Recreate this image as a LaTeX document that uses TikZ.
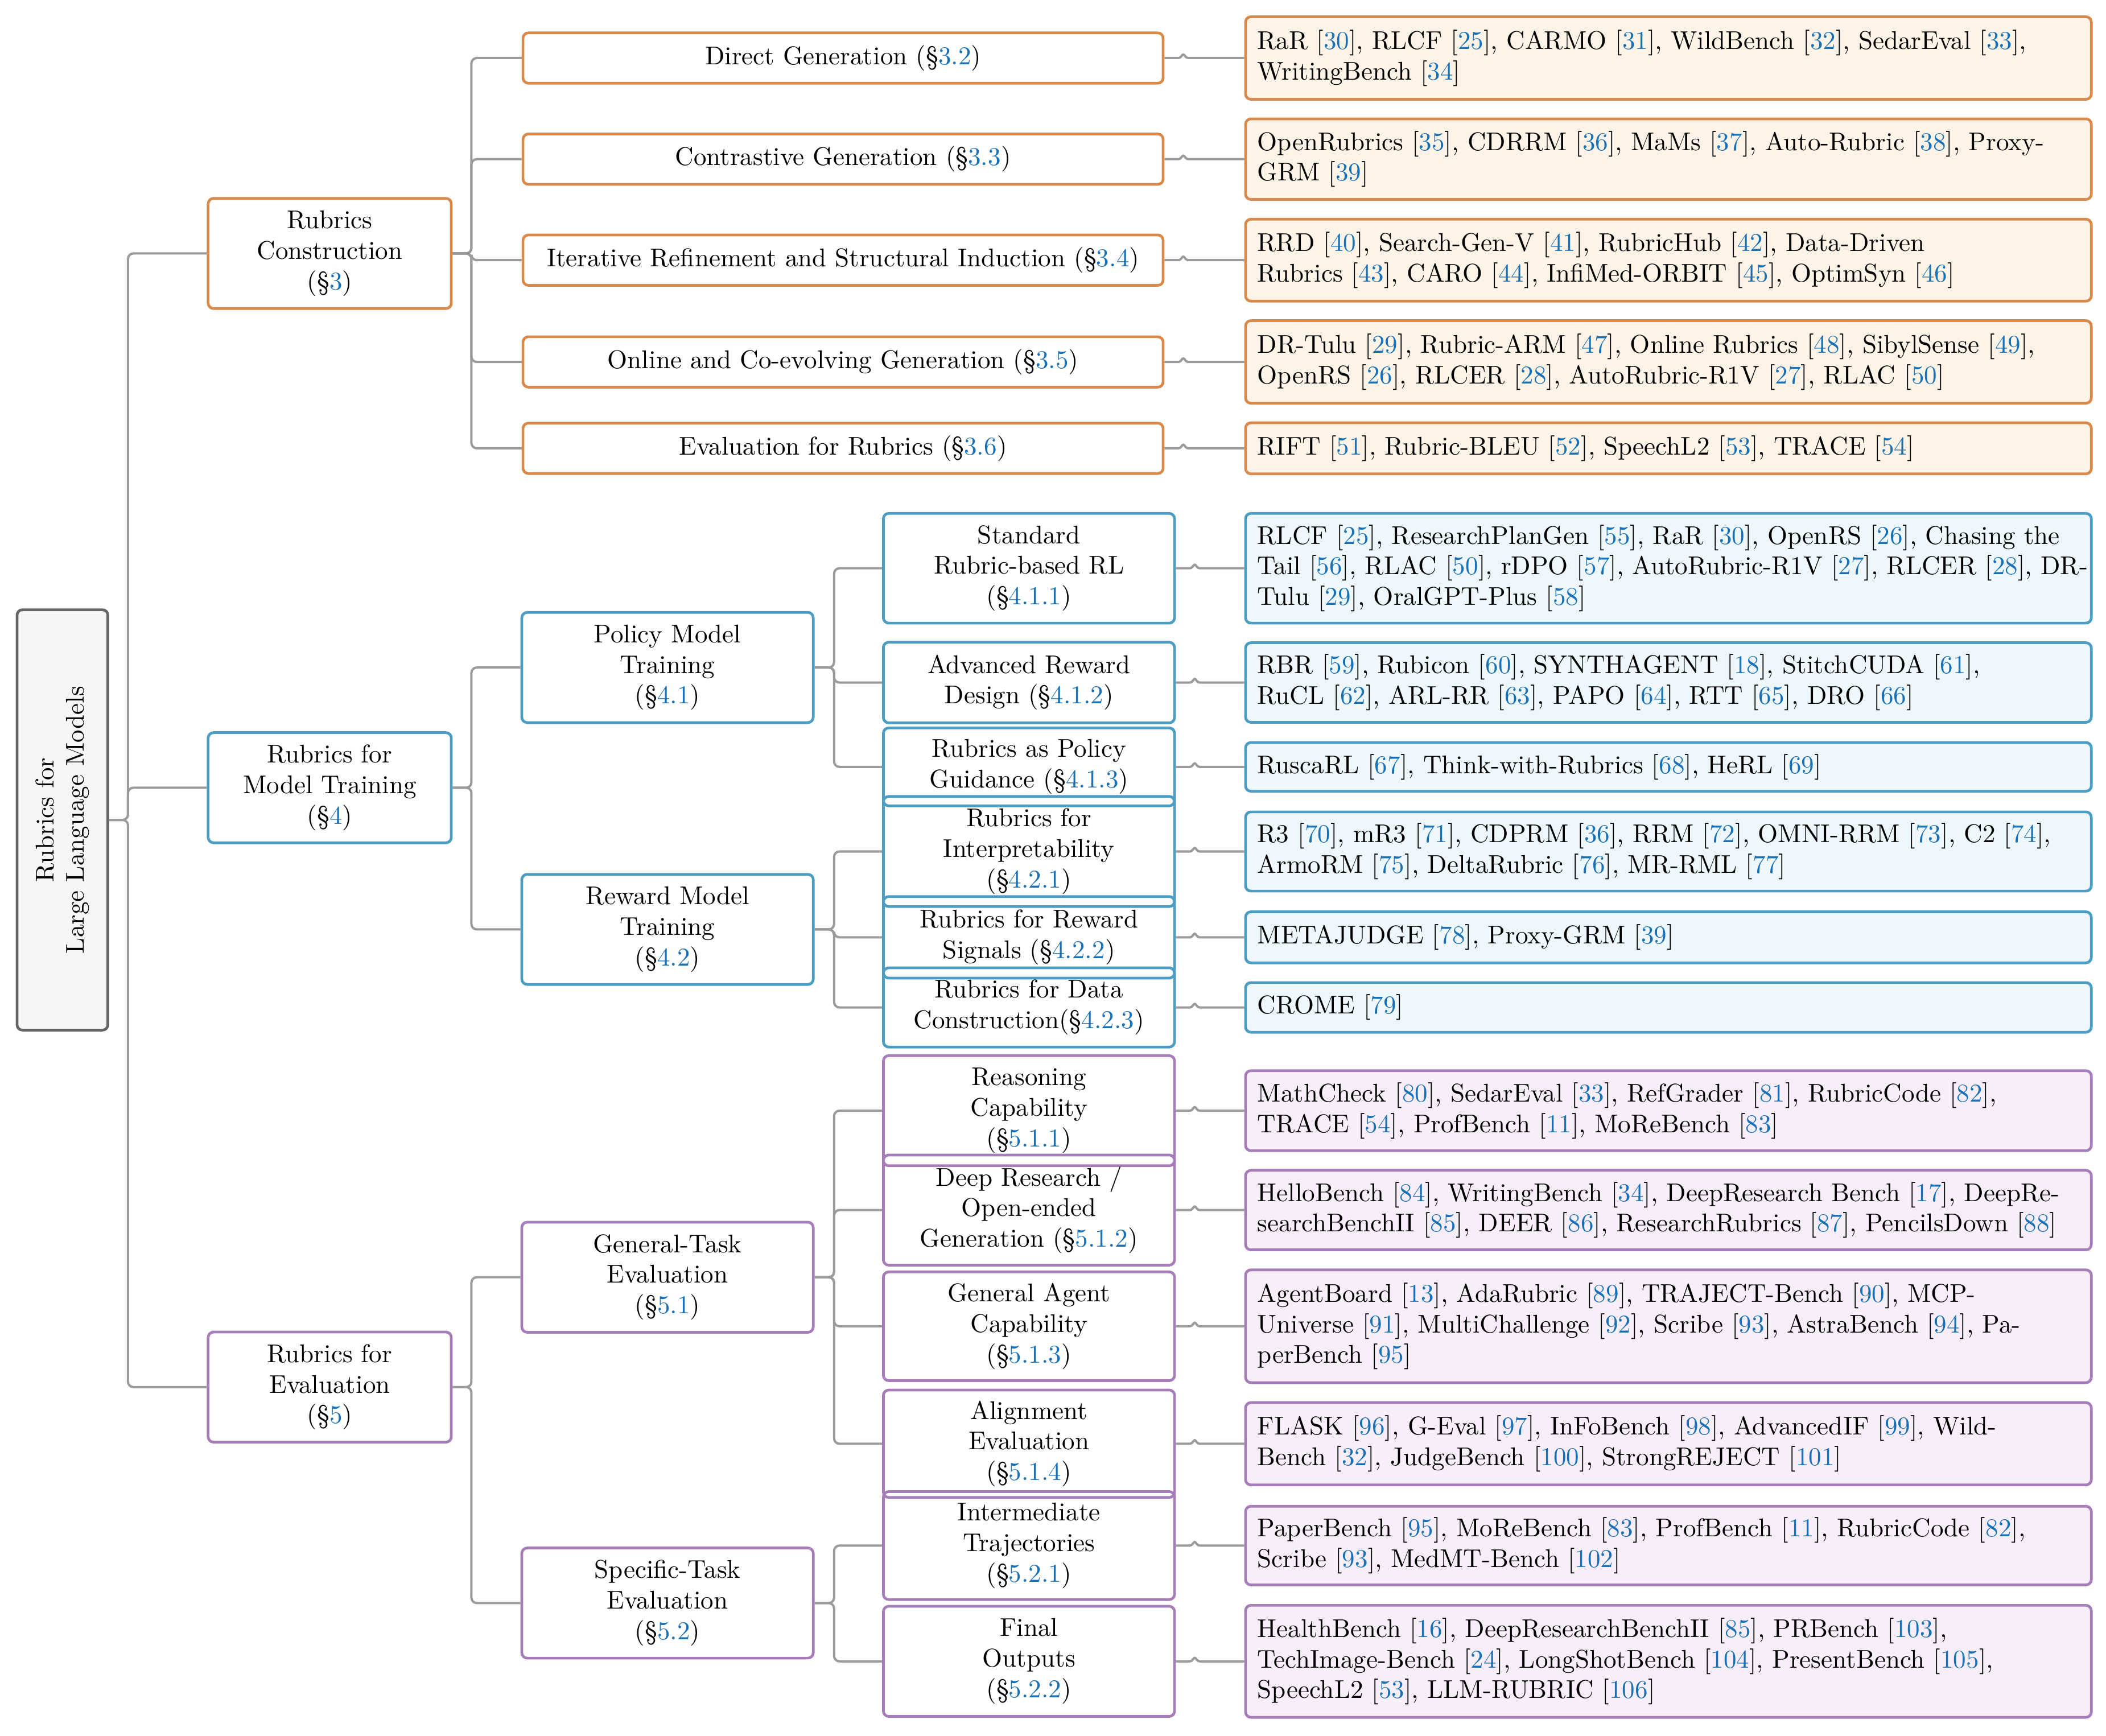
\documentclass[tikz,border=0pt]{standalone}
\usepackage{xcolor}
\definecolor{orB}{RGB}{217,138,74}
\definecolor{orF}{RGB}{253,243,231}
\definecolor{blB}{RGB}{75,157,196}
\definecolor{blF}{RGB}{238,248,252}
\definecolor{puB}{RGB}{166,124,185}
\definecolor{puF}{RGB}{247,238,249}
\definecolor{citeC}{RGB}{24,112,182}
\definecolor{connC}{RGB}{155,155,155}
\definecolor{rootB}{RGB}{102,102,102}
\definecolor{rootF}{RGB}{246,246,246}
\newcommand{\ct}[1]{[\textcolor{citeC}{#1}]}
\newcommand{\sect}[1]{(\S\textcolor{citeC}{#1})}
\begin{document}
\begin{tikzpicture}[x=0.5pt,y=-0.5pt,
  font=\fontsize{9.55pt}{11.4pt}\selectfont,
  box/.style={rounded corners=2pt, line width=1pt, inner sep=0pt, align=center},
  rootbox/.style={box, draw=rootB, fill=rootF, minimum width=156.5pt, minimum height=33.8pt, rotate=90},
  orN/.style={box, draw=orB},
  blN/.style={box, draw=blB},
  puN/.style={box, draw=puB},
  lone/.style={minimum width=90.5pt, minimum height=41pt},
  ltwowide/.style={minimum width=238.3pt, minimum height=18.75pt},
  ltwo/.style={minimum width=108.5pt, minimum height=41pt},
  lthree/.style={minimum width=108.4pt, minimum height=#1},
  leaf/.style={rounded corners=2pt, line width=1pt, text width=306pt, align=left,
    inner xsep=4.4pt, inner ysep=0pt, minimum width=314.85pt, minimum height=#1},
  orL/.style={leaf=#1, draw=orB, fill=orF},
  blL/.style={leaf=#1, draw=blB, fill=blF},
  puL/.style={leaf=#1, draw=puB, fill=puF},
  conn/.style={draw=connC, line width=0.85pt, rounded corners=2pt},
  bconn/.style={draw=connC, line width=0.85pt, rounded corners=0.6pt},
]
\useasboundingbox (0,0) rectangle (1568,1292.6);

% root
\node[rootbox] (root) at (46.5,610.5) {Rubrics for\\Large Language Models};

% level 1
\node[orN, lone] (c3) at (245.5,188.7) {Rubrics\\Construction\\\sect{3}};
\node[blN, lone] (c4) at (245.5,586.5) {Rubrics for\\Model Training\\\sect{4}};
\node[puN, lone] (c5) at (245.5,1032.8) {Rubrics for\\Evaluation\\\sect{5}};

% level 2, section 3
\node[orN, ltwowide] (d32) at (627.7,43.2) {Direct Generation \sect{3.2}};
\node[orN, ltwowide] (d33) at (627.7,118.5) {Contrastive Generation \sect{3.3}};
\node[orN, ltwowide] (d34) at (627.7,193.7) {Iterative Refinement and Structural Induction \sect{3.4}};
\node[orN, ltwowide] (d35) at (627.7,269.5) {Online and Co-evolving Generation \sect{3.5}};
\node[orN, ltwowide] (d36) at (627.7,333.8) {Evaluation for Rubrics \sect{3.6}};

% level 2, sections 4 and 5
\node[blN, ltwo] (p41) at (497,497) {Policy Model\\Training\\\sect{4.1}};
\node[blN, ltwo] (p42) at (497,692) {Reward Model\\Training\\\sect{4.2}};
\node[puN, ltwo] (p51) at (497,951) {General-Task\\Evaluation\\\sect{5.1}};
\node[puN, ltwo] (p52) at (497,1193.6) {Specific-Task\\Evaluation\\\sect{5.2}};

% level 3
\node[blN, lthree=40.85pt] (q411) at (766.1,423.1) {Standard\\Rubric-based RL\\\sect{4.1.1}};
\node[blN, lthree=30pt] (q412) at (766.1,508.2) {Advanced Reward\\Design \sect{4.1.2}};
\node[blN, lthree=29pt] (q413) at (766.1,571) {Rubrics as Policy\\Guidance \sect{4.1.3}};
\node[blN, lthree=41pt] (q421) at (766.1,634) {Rubrics for\\Interpretability\\\sect{4.2.1}};
\node[blN, lthree=30.35pt] (q422) at (766.1,697.9) {Rubrics for Reward\\Signals \sect{4.2.2}};
\node[blN, lthree=29.5pt] (q423) at (766.1,750.1) {Rubrics for Data\\Construction\sect{4.2.3}};
\node[puN, lthree=41pt] (q511) at (766.1,827) {Reasoning\\Capability\\\sect{5.1.1}};
\node[puN, lthree=41pt] (q512) at (766.1,901) {Deep Research /\\Open-ended\\Generation \sect{5.1.2}};
\node[puN, lthree=40.5pt] (q513) at (766.1,987.5) {General Agent\\Capability\\\sect{5.1.3}};
\node[puN, lthree=40pt] (q514) at (766.1,1075) {Alignment\\Evaluation\\\sect{5.1.4}};
\node[puN, lthree=40.2pt] (q521) at (766.1,1150.8) {Intermediate\\Trajectories\\\sect{5.2.1}};
\node[puN, lthree=41pt] (q522) at (766.1,1237) {Final\\Outputs\\\sect{5.2.2}};

% leaves
\node[orL=30.75pt] (e32) at (1242.2,43.2) {RaR \ct{30}, RLCF \ct{25}, CARMO \ct{31}, WildBench \ct{32}, SedarEval \ct{33},\\WritingBench \ct{34}};
\node[orL=30pt] (e33) at (1242.2,118.5) {OpenRubrics \ct{35}, CDRRM \ct{36}, MaMs \ct{37}, Auto-Rubric \ct{38}, Proxy-\\GRM \ct{39}};
\node[orL=30.5pt] (e34) at (1242.2,193.7) {RRD \ct{40}, Search-Gen-V \ct{41}, RubricHub \ct{42}, Data-Driven\\Rubrics \ct{43}, CARO \ct{44}, InfiMed-ORBIT \ct{45}, OptimSyn \ct{46}};
\node[orL=30.75pt] (e35) at (1242.2,269.5) {DR-Tulu \ct{29}, Rubric-ARM \ct{47}, Online Rubrics \ct{48}, SibylSense \ct{49},\\OpenRS \ct{26}, RLCER \ct{28}, AutoRubric-R1V \ct{27}, RLAC \ct{50}};
\node[orL=19pt] (e36) at (1242.2,333.8) {RIFT \ct{51}, Rubric-BLEU \ct{52}, SpeechL2 \ct{53}, TRACE \ct{54}};

\node[blL=40.85pt] (e411) at (1242.2,423.1) {\mbox{RLCF \ct{25}, ResearchPlanGen \ct{55}, RaR \ct{30}, OpenRS \ct{26}, Chasing the}\\\mbox{Tail \ct{56}, RLAC \ct{50}, rDPO \ct{57}, AutoRubric-R1V \ct{27}, RLCER \ct{28}, DR-}\\Tulu \ct{29}, OralGPT-Plus \ct{58}};
\node[blL=29.65pt] (e412) at (1242.2,508.2) {RBR \ct{59}, Rubicon \ct{60}, SYNTHAGENT \ct{18}, StitchCUDA \ct{61},\\RuCL \ct{62}, ARL-RR \ct{63}, PAPO \ct{64}, RTT \ct{65}, DRO \ct{66}};
\node[blL=18.15pt] (e413) at (1242.2,571) {RuscaRL \ct{67}, Think-with-Rubrics \ct{68}, HeRL \ct{69}};
\node[blL=29.5pt] (e421) at (1242.2,634) {R3 \ct{70}, mR3 \ct{71}, CDPRM \ct{36}, RRM \ct{72}, OMNI-RRM \ct{73}, C2 \ct{74},\\ArmoRM \ct{75}, DeltaRubric \ct{76}, MR-RML \ct{77}};
\node[blL=19pt] (e422) at (1242.2,697.9) {METAJUDGE \ct{78}, Proxy-GRM \ct{39}};
\node[blL=18.5pt] (e423) at (1242.2,750.1) {CROME \ct{79}};

\node[puL=29.8pt] (e511) at (1242.2,827) {MathCheck \ct{80}, SedarEval \ct{33}, RefGrader \ct{81}, RubricCode \ct{82},\\TRACE \ct{54}, ProfBench \ct{11}, MoReBench \ct{83}};
\node[puL=29.6pt] (e512) at (1242.2,901) {\mbox{HelloBench \ct{84}, WritingBench \ct{34}, DeepResearch Bench \ct{17}, DeepRe-}\\\mbox{searchBenchII \ct{85}, DEER \ct{86}, ResearchRubrics \ct{87}, PencilsDown \ct{88}}};
\node[puL=42pt] (e513) at (1242.2,987.5) {AgentBoard \ct{13}, AdaRubric \ct{89}, TRAJECT-Bench \ct{90}, MCP-\\Universe \ct{91}, MultiChallenge \ct{92}, Scribe \ct{93}, AstraBench \ct{94}, Pa-\\perBench \ct{95}};
\node[puL=30.65pt] (e514) at (1242.2,1075) {FLASK \ct{96}, G-Eval \ct{97}, InFoBench \ct{98}, AdvancedIF \ct{99}, Wild-\\Bench \ct{32}, JudgeBench \ct{100}, StrongREJECT \ct{101}};
\node[puL=29.3pt] (e521) at (1242.2,1150.8) {PaperBench \ct{95}, MoReBench \ct{83}, ProfBench \ct{11}, RubricCode \ct{82},\\Scribe \ct{93}, MedMT-Bench \ct{102}};
\node[puL=41.7pt] (e522) at (1242.2,1237) {HealthBench \ct{16}, DeepResearchBenchII \ct{85}, PRBench \ct{103},\\TechImage-Bench \ct{24}, LongShotBench \ct{104}, PresentBench \ct{105},\\SpeechL2 \ct{53}, LLM-RUBRIC \ct{106}};

% tree connectors
\foreach \c in {c3,c4,c5} {\draw[conn] (root.south) -- ++(14,0) |- (\c.west);}
\foreach \p/\c in {c3/d32,c3/d33,c3/d34,c3/d35,c3/d36,c4/p41,c4/p42,c5/p51,c5/p52}
  {\draw[conn] (\p.east) -- ++(14,0) |- (\c.west);}
\foreach \p/\c in {p41/q411,p41/q412,p41/q413,p42/q421,p42/q422,p42/q423,
  p51/q511,p51/q512,p51/q513,p51/q514,p52/q521,p52/q522}
  {\draw[conn] (\p.east) -- ++(14.5,0) |- (\c.west);}
% leaf connectors
\foreach \p/\c in {d32/e32,d33/e33,d34/e34,d35/e35,d36/e36,
  q411/e411,q412/e412,q413/e413,q421/e421,q422/e422,q423/e423,
  q511/e511,q512/e512,q513/e513,q514/e514,q521/e521,q522/e522}
  {\draw[bconn] (\p.east) -- ++(11.5,0) -- ++(2.5,-3.2) -- ++(2.5,3.2) -- (\c.west);}
\end{tikzpicture}
\end{document}
